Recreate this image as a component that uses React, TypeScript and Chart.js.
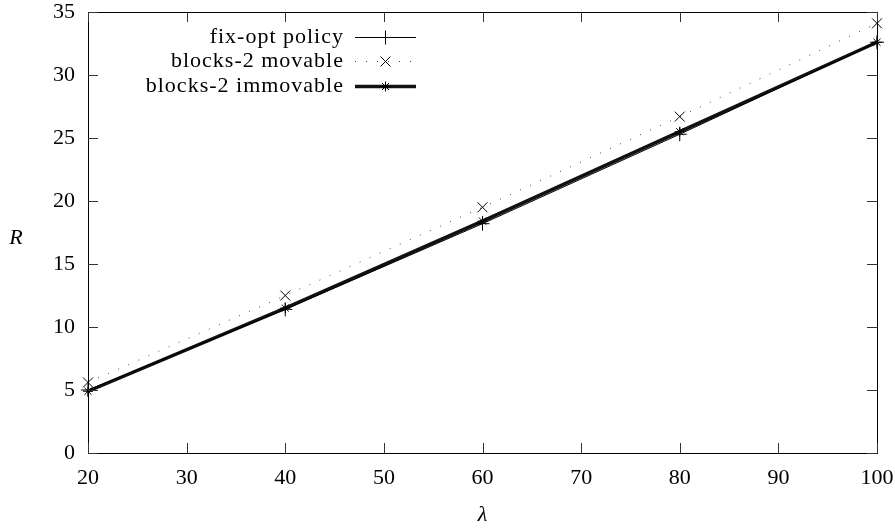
import React, { useEffect, useRef } from "react";
import { Chart, registerables } from "chart.js";
import * as helpers from "chart.js/helpers";

Chart.register(...registerables);

const lambdas = [20, 40, 60, 80, 100];
const fixOpt = [5.0, 11.4, 18.2, 25.3, 32.6];
const movable = [5.6, 12.5, 19.5, 26.7, 34.1];
const immovable = [4.9, 11.5, 18.4, 25.5, 32.6];
const seriesNames = ["fix-opt policy", "blocks-2 movable", "blocks-2 immovable"];

const FONT = "'Liberation Serif', 'DejaVu Serif', serif";

const boxPlugin = {
  id: "gnuplotBox",
  afterDraw(chart: any) {
    const { ctx, chartArea: a, scales } = chart;
    const xs = scales.x;
    const ys = scales.y;
    ctx.save();
    ctx.strokeStyle = "#000";
    ctx.lineWidth = 1;
    ctx.strokeRect(Math.round(a.left) + 0.5, Math.round(a.top) + 0.5, Math.round(a.right - a.left), Math.round(a.bottom - a.top));
    const tl = 10;
    ctx.strokeStyle = "#333";
    ctx.beginPath();
    xs.ticks.forEach((_t: any, i: number) => {
      const px = Math.round(xs.getPixelForTick(i)) + 0.5;
      ctx.moveTo(px, a.bottom);
      ctx.lineTo(px, a.bottom - tl);
      ctx.moveTo(px, a.top);
      ctx.lineTo(px, a.top + tl);
    });
    ys.ticks.forEach((_t: any, i: number) => {
      const py = Math.round(ys.getPixelForTick(i)) + 0.5;
      ctx.moveTo(a.left, py);
      ctx.lineTo(a.left + tl, py);
      ctx.moveTo(a.right, py);
      ctx.lineTo(a.right - tl, py);
    });
    ctx.stroke();

    // y title (unrotated, gnuplot style)
    ctx.fillStyle = "#000";
    ctx.font = `italic 22px ${FONT}`;
    ctx.textAlign = "center";
    ctx.textBaseline = "middle";
    ctx.fillText("R", 16, 238);

    // legend
    const ds = chart.data.datasets;
    ctx.font = `22px ${FONT}`;
    (ctx as any).letterSpacing = "1px";
    ctx.textAlign = "right";
    const textRight = 344;
    const sx0 = 355;
    const sx1 = 416;
    const rows = [37, 61, 86];
    ds.forEach((d: any, i: number) => {
      const y = rows[i];
      ctx.fillStyle = "#000";
      ctx.fillText(d.label, textRight, y);
      ctx.save();
      ctx.strokeStyle = d.borderColor;
      ctx.lineWidth = d.borderWidth;
      ctx.setLineDash(d.borderDash || []);
      ctx.beginPath();
      ctx.moveTo(sx0, y + 0.5);
      ctx.lineTo(sx1, y + 0.5);
      ctx.stroke();
      ctx.restore();
      ctx.save();
      ctx.strokeStyle = "#000";
      ctx.fillStyle = "#000";
      ctx.lineWidth = 1;
      (helpers as any).drawPoint(
        ctx,
        { pointStyle: d.pointStyle, radius: d.pointRadius, borderWidth: 1, rotation: 0 },
        385.5,
        y + 0.5
      );
      ctx.restore();
    });
    (ctx as any).letterSpacing = "0px";
    ctx.restore();
  },
};

export default function App() {
  const ref = useRef<HTMLCanvasElement>(null);
  useEffect(() => {
    document.body.style.margin = "0";
    const chart = new Chart(ref.current!, {
      type: "line",
      data: {
        labels: lambdas,
        datasets: [
          {
            label: seriesNames[0],
            data: lambdas.map((x, i) => ({ x, y: fixOpt[i] })),
            borderColor: "#000",
            borderWidth: 1,
            pointStyle: "cross",
            pointRadius: 7,
            pointBorderColor: "#000",
            pointBorderWidth: 1,
          },
          {
            label: seriesNames[1],
            data: lambdas.map((x, i) => ({ x, y: movable[i] })),
            borderColor: "#444",
            borderWidth: 1,
            borderDash: [1, 10],
            pointStyle: "crossRot",
            pointRadius: 7,
            pointBorderColor: "#000",
            pointBorderWidth: 1,
          },
          {
            label: seriesNames[2],
            data: lambdas.map((x, i) => ({ x, y: immovable[i] })),
            borderColor: "#111",
            borderWidth: 3.5,
            pointStyle: "star",
            pointRadius: 5,
            pointBorderColor: "#000",
            pointBorderWidth: 1,
          },
        ],
      },
      options: {
        animation: false,
        responsive: false,
        clip: false as any,
        layout: { padding: { top: 12, right: 18, left: 0, bottom: 0 } },
        plugins: { legend: { display: false }, tooltip: { enabled: false } },
        scales: {
          x: {
            type: "linear",
            min: 20,
            max: 100,
            ticks: { stepSize: 10, color: "#000", font: { family: FONT, size: 22 }, padding: 12 },
            grid: { display: false, drawTicks: false },
            border: { display: false },
            title: { display: true, text: "λ", color: "#000", font: { family: FONT, size: 22, style: "italic" }, padding: { top: 4, bottom: 0 } },
            afterFit: (s: any) => {
              s.height = 75;
              s.paddingLeft = 0;
              s.paddingRight = 0;
            },
          },
          y: {
            min: 0,
            max: 35,
            ticks: { stepSize: 5, color: "#000", font: { family: FONT, size: 22 }, padding: 13 },
            grid: { display: false, drawTicks: false },
            border: { display: false },
            afterFit: (s: any) => {
              s.width = 88;
              s.paddingTop = 0;
              s.paddingBottom = 0;
            },
          },
        },
      },
      plugins: [boxPlugin],
    });
    return () => chart.destroy();
  }, []);
  return <canvas ref={ref} width={895} height={528} style={{ display: "block" }} />;
}
